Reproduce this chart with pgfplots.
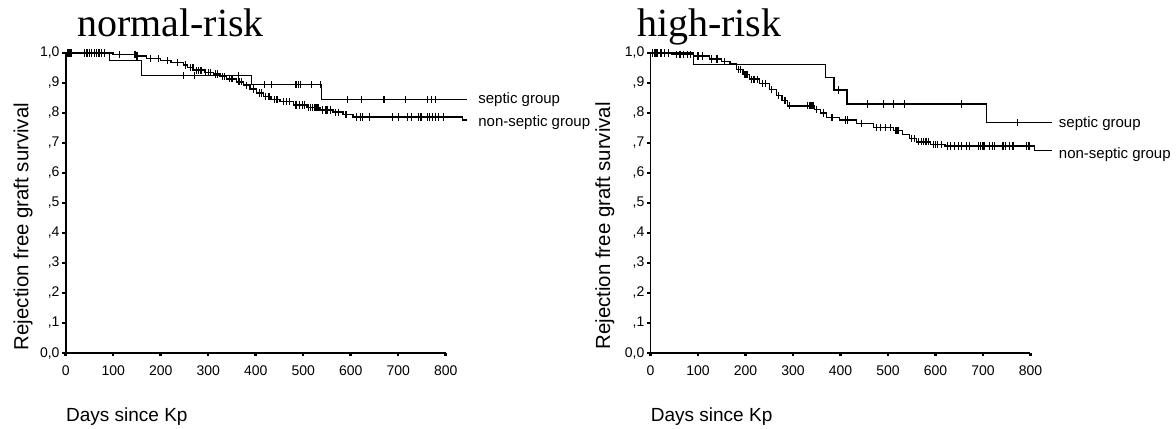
\documentclass[border=0pt]{standalone}
\usepackage{fontspec}
\setmainfont{Liberation Sans}
\newfontfamily\titlefont{Liberation Serif}
\usepackage{pgfplots}
\pgfplotsset{compat=1.18}

\pgfplotsset{
  kmaxis/.style={
    scale only axis, width=190pt, height=150pt,
    xmin=0, xmax=800, ymin=0, ymax=1,
    enlargelimits=false, clip=false,
    axis x line=bottom, axis y line=left,
    axis line style={-, line width=0.9pt},
    tick align=outside, major tick length=1.6pt,
    tick style={line width=1.2pt, black},
    xtick={0,100,...,800},
    xticklabels={0,100,200,300,400,500,600,700,800},
    ytick={0,0.1,...,1.0},
    yticklabels={{0,0},{,1},{,2},{,3},{,4},{,5},{,6},{,7},{,8},{,9},{1,0}},
    /pgf/number format/assume math mode=true,
    ticklabel style={font=\fontsize{7}{8}\selectfont, inner sep=0pt},
    xticklabel style={yshift=-4.5pt},
    yticklabel style={xshift=-1.3pt},
    xlabel={Days since Kp},
    xlabel style={at={(axis description cs:0,-0.229)}, anchor=base west,
                  font=\fontsize{9.5}{11}\selectfont, inner sep=0pt},
    ylabel={Rejection free graft survival},
    ylabel style={anchor=base, font=\fontsize{10.2}{12}\selectfont, inner sep=0pt},
    every axis title shift=0pt,
    title style={anchor=base west, font=\titlefont\fontsize{20}{22}\selectfont, inner sep=0pt},
  },
  km/.style={const plot mark left, no marks, black, line width=0.7pt},
  cens/.style={only marks, mark=|, mark size=1.8pt, black, mark options={line width=0.6pt}},
}

\begin{document}
\begin{tikzpicture}
\useasboundingbox (0,0) rectangle (588pt,-214pt);

% ---------------- normal-risk ----------------
\begin{axis}[kmaxis, at={(32.85pt,-176.5pt)}, anchor=south west,
  title={normal-risk},
  title style={at={(axis description cs:0.029,1.054)}},
  ylabel style={at={(axis description cs:-0.0984,0.4217)}}]

% septic group
\addplot[km] coordinates {
(0,1) (92,0.975) (160,0.925) (391,0.895) (539,0.845) (845,0.845)
};
\addplot[cens] coordinates {
(248,0.925) (272,0.925) (363,0.925)
(418,0.895) (433,0.895) (485,0.895) (490,0.895) (495,0.895) (518,0.895) (537,0.895)
(593,0.845) (623,0.845) (670,0.845) (715,0.845) (762,0.845) (770,0.845) (779,0.845)
};

% non-septic group
\addplot[km] coordinates {
(0,1.000) (100,0.996) (148,0.990) (170,0.982) (200,0.975) (222,0.968)
(248,0.960) (256,0.952) (269,0.943) (292,0.936) (311,0.930) (325,0.922)
(339,0.914) (360,0.904) (374,0.893) (388,0.880) (402,0.867) (416,0.855)
(432,0.845) (451,0.838) (479,0.827) (508,0.818) (535,0.810) (563,0.803)
(584,0.795) (605,0.787) (836,0.777) (845,0.777)
};
\addplot[cens] coordinates {
(3,1) (5,1) (7,1) (9,1) (11,1) (40,1) (45,1) (50,1) (55,1)
(60,1) (65,1) (70,1) (75,1) (82,1) (114,0.996) (145,0.996) (147,0.996)
(150,0.990) (152,0.990) (178,0.982) (195,0.982) (215,0.975) (235,0.968)
(252,0.960) (262,0.952) (268,0.952) (275,0.943) (280,0.943) (285,0.943)
(295,0.936) (300,0.936) (305,0.936) (315,0.930) (320,0.930) (330,0.922)
(335,0.922) (345,0.914) (350,0.914) (365,0.904) (370,0.904) (380,0.893)
(395,0.880) (408,0.867) (412,0.867) (420,0.855) (428,0.855) (440,0.845)
(445,0.845) (458,0.838) (465,0.838) (472,0.838) (485,0.827) (492,0.827)
(498,0.827) (502,0.827) (512,0.818) (515,0.818) (520,0.818) (525,0.818)
(528,0.818) (531,0.818) (540,0.810) (548,0.810) (552,0.810) (557,0.810)
(568,0.803) (575,0.803) (590,0.795) (612,0.787) (620,0.787) (625,0.787)
(640,0.787) (688,0.787) (700,0.787) (720,0.787) (728,0.787) (742,0.787)
(748,0.787) (762,0.787) (766,0.787) (772,0.787) (779,0.787) (785,0.787)
(795,0.787)
};
% dark stretch on the day axis
\addplot[black, line width=1.4pt, no marks] coordinates {(420,0) (673,0)};

\node[anchor=west, font=\fontsize{7.5}{9}\selectfont, inner sep=0pt] at (axis cs:868,0.845) {septic group};
\node[anchor=west, font=\fontsize{7.5}{9}\selectfont, inner sep=0pt] at (axis cs:868,0.768) {non-septic group};
\end{axis}

% ---------------- high-risk ----------------
\begin{axis}[kmaxis, at={(325.25pt,-176.5pt)}, anchor=south west,
  title={high-risk},
  title style={at={(axis description cs:-0.0363,1.054)}},
  ylabel style={at={(axis description cs:-0.1066,0.424)}}]

% septic group
\addplot[km] coordinates {
(0,1) (90,0.962) (368,0.919) (386,0.877) (414,0.830) (707,0.768) (845,0.768)
};
\addplot[cens] coordinates {
(396,0.877) (457,0.830) (490,0.830) (511,0.830) (535,0.830) (655,0.830) (773,0.768)
};

% non-septic group
\addplot[km] coordinates {
(0,1.000) (45,0.996) (90,0.990) (124,0.980) (150,0.972) (167,0.963)
(181,0.945) (195,0.928) (209,0.913) (230,0.899) (251,0.878) (265,0.858)
(277,0.842) (289,0.824) (345,0.812) (358,0.800) (371,0.786) (398,0.777)
(434,0.766) (469,0.752) (511,0.741) (530,0.728) (545,0.715) (560,0.704)
(590,0.695) (620,0.690) (808,0.675) (845,0.675)
};
\addplot[cens] coordinates {
(5,1) (8,1) (10,1) (12,1) (14,1) (22,1) (30,1) (38,1)
(55,0.996) (62,0.996) (70,0.996) (78,0.996) (85,0.996) (100,0.990) (110,0.990)
(128,0.980) (140,0.980) (155,0.972) (185,0.945) (190,0.945) (198,0.928)
(200,0.928) (203,0.928) (205,0.928) (212,0.913) (218,0.913) (225,0.913)
(235,0.899) (242,0.899) (255,0.878) (270,0.858) (283,0.842) (292,0.824)
(330,0.824) (335,0.824) (338,0.824) (342,0.824) (350,0.812) (365,0.800)
(382,0.786) (410,0.777) (415,0.777) (445,0.766) (475,0.752) (485,0.752)
(495,0.752) (505,0.752) (515,0.741) (518,0.741) (520,0.741) (522,0.741)
(550,0.715) (555,0.715) (565,0.704) (570,0.704) (575,0.704) (580,0.704)
(585,0.704) (595,0.695) (600,0.695) (605,0.695) (612,0.695) (625,0.690)
(632,0.690) (640,0.690) (648,0.690) (655,0.690) (665,0.690) (672,0.690)
(690,0.690) (695,0.690) (700,0.690) (704,0.690) (714,0.690) (720,0.690)
(724,0.690) (742,0.690) (748,0.690) (756,0.690) (762,0.690) (764,0.690)
(791,0.690) (795,0.690) (798,0.690)
};
\addplot[black, line width=1.4pt, no marks] coordinates {(422,0) (674,0)};

\node[anchor=west, font=\fontsize{7.5}{9}\selectfont, inner sep=0pt] at (axis cs:859,0.766) {septic group};
\node[anchor=west, font=\fontsize{7.5}{9}\selectfont, inner sep=0pt] at (axis cs:859,0.660) {non-septic group};
\end{axis}
\end{tikzpicture}
\end{document}
